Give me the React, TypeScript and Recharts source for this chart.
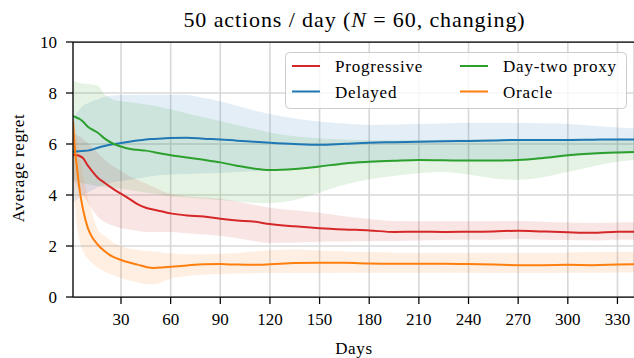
import React from "react";
import {
  ComposedChart,
  Area,
  Line,
  XAxis,
  YAxis,
  CartesianGrid,
  ReferenceLine,
} from "recharts";

// ─── Data ─────────────────────────────────────────────────────────────────────

const days = [
  1, 2, 3, 5, 7, 10, 13, 16, 20, 25, 30, 35, 40, 45, 50, 55, 60, 70, 80, 90,
  100, 110, 120, 135, 150, 165, 180, 195, 210, 225, 240, 255, 270, 285, 300,
  315, 330, 340,
];

const progressive = [
  5.57, 5.57, 5.56, 5.53, 5.45, 5.15, 4.9, 4.68, 4.48, 4.25, 4.05, 3.85, 3.64,
  3.5, 3.42, 3.35, 3.28, 3.2, 3.16, 3.07, 3.0, 2.96, 2.86, 2.77, 2.7, 2.65,
  2.61, 2.55, 2.56, 2.55, 2.56, 2.57, 2.6, 2.57, 2.54, 2.52, 2.56, 2.56,
];
const progressiveLow = [
  4.6, 4.5, 4.4, 4.2, 4.0, 3.7, 3.4, 3.15, 2.95, 2.8, 2.7, 2.65, 2.6, 2.55,
  2.55, 2.55, 2.55, 2.5, 2.45, 2.4, 2.3, 2.2, 2.12, 2.14, 2.17, 2.18, 2.2, 2.2,
  2.22, 2.24, 2.25, 2.25, 2.27, 2.25, 2.24, 2.22, 2.25, 2.25,
];
const progressiveHigh = [
  6.4, 6.4, 6.35, 6.3, 6.2, 6.05, 5.85, 5.65, 5.4, 5.15, 4.95, 4.75, 4.6, 4.45,
  4.3, 4.15, 4.05, 3.95, 3.9, 3.85, 3.75, 3.62, 3.5, 3.4, 3.3, 3.17, 3.06,
  2.98, 2.97, 2.97, 2.97, 2.97, 2.98, 2.95, 2.92, 2.9, 2.92, 2.93,
];

const delayed = [
  5.7, 5.7, 5.71, 5.72, 5.73, 5.74, 5.79, 5.85, 5.92, 5.99, 6.04, 6.09, 6.14,
  6.18, 6.2, 6.22, 6.24, 6.25, 6.21, 6.18, 6.13, 6.09, 6.05, 6.0, 5.97, 6.01,
  6.05, 6.07, 6.09, 6.11, 6.12, 6.14, 6.16, 6.16, 6.16, 6.17, 6.18, 6.18,
];
const delayedLow = [
  3.7, 3.75, 3.8, 3.9, 4.0, 4.1, 4.2, 4.3, 4.4, 4.5, 4.55, 4.6, 4.65, 4.7,
  4.75, 4.78, 4.8, 4.82, 4.85, 4.86, 4.9, 4.93, 4.95, 5.0, 5.08, 5.18, 5.25,
  5.3, 5.33, 5.33, 5.32, 5.32, 5.33, 5.4, 5.5, 5.58, 5.62, 5.64,
];
const delayedHigh = [
  7.0, 7.1, 7.2, 7.35, 7.5, 7.6, 7.7, 7.75, 7.85, 7.9, 7.92, 7.92, 7.93, 7.93,
  7.93, 7.93, 7.93, 7.92, 7.8, 7.67, 7.5, 7.32, 7.18, 7.0, 6.88, 6.8, 6.75,
  6.76, 6.78, 6.8, 6.83, 6.83, 6.82, 6.81, 6.78, 6.72, 6.65, 6.61,
];

const dayTwoProxy = [
  7.1, 7.07, 7.04, 6.98, 6.88, 6.68, 6.55, 6.44, 6.22, 6.02, 5.9, 5.81, 5.77,
  5.74, 5.68, 5.62, 5.56, 5.47, 5.38, 5.28, 5.15, 5.04, 4.98, 5.02, 5.12, 5.24,
  5.3, 5.34, 5.37, 5.36, 5.35, 5.35, 5.37, 5.45, 5.56, 5.63, 5.67, 5.69,
];
const dayTwoProxyLow = [
  4.6, 4.58, 4.55, 4.5, 4.47, 4.42, 4.38, 4.35, 4.3, 4.27, 4.25, 4.2, 4.15,
  4.1, 4.05, 4.0, 3.95, 3.9, 3.85, 3.8, 3.75, 3.7, 3.68, 3.8, 4.1, 4.4, 4.62,
  4.75, 4.85, 4.9, 4.8, 4.65, 4.6, 4.7, 4.9, 5.12, 5.3, 5.37,
];
const dayTwoProxyHigh = [
  8.45, 8.44, 8.42, 8.4, 8.37, 8.35, 8.32, 8.28, 7.95, 7.75, 7.68, 7.64, 7.6,
  7.55, 7.5, 7.43, 7.36, 7.2, 7.05, 6.9, 6.75, 6.6, 6.45, 6.3, 6.22, 6.18,
  6.15, 6.15, 6.16, 6.17, 6.18, 6.18, 6.19, 6.2, 6.2, 6.2, 6.21, 6.21,
];

const oracle = [
  6.9, 5.9, 5.3, 4.2, 3.45, 2.7, 2.3, 2.05, 1.8, 1.58, 1.45, 1.35, 1.27, 1.18,
  1.14, 1.16, 1.19, 1.24, 1.28, 1.29, 1.27, 1.26, 1.28, 1.33, 1.34, 1.34, 1.31,
  1.3, 1.3, 1.3, 1.29, 1.27, 1.25, 1.25, 1.26, 1.25, 1.27, 1.28,
];
const oracleLow = [
  5.0, 3.8, 3.0, 2.2, 1.8, 1.5, 1.3, 1.15, 1.0, 0.85, 0.75, 0.65, 0.58, 0.5,
  0.5, 0.6, 0.72, 0.82, 0.87, 0.9, 0.92, 0.93, 0.94, 0.94, 0.94, 0.95, 0.95,
  0.95, 0.95, 0.95, 0.95, 0.94, 0.94, 0.94, 0.95, 0.95, 0.96, 0.96,
];
const oracleHigh = [
  7.2, 6.8, 6.4, 5.6, 4.8, 3.9, 3.2, 2.65, 2.4, 2.15, 2.0, 1.9, 1.85, 1.8,
  1.78, 1.75, 1.72, 1.68, 1.68, 1.7, 1.72, 1.78, 1.83, 1.86, 1.82, 1.78, 1.76,
  1.74, 1.73, 1.73, 1.73, 1.73, 1.74, 1.74, 1.75, 1.76, 1.77, 1.78,
];

const xTicks = [30, 60, 90, 120, 150, 180, 210, 240, 270, 300, 330];
const yTicks = [0, 2, 4, 6, 8, 10];

// ─── Series setup ─────────────────────────────────────────────────────────────

const series = [
  { key: "progressive", name: "Progressive", color: "#d62728", mean: progressive, low: progressiveLow, high: progressiveHigh },
  { key: "delayed", name: "Delayed", color: "#1f77b4", mean: delayed, low: delayedLow, high: delayedHigh },
  { key: "dayTwo", name: "Day-two proxy", color: "#2ca02c", mean: dayTwoProxy, low: dayTwoProxyLow, high: dayTwoProxyHigh },
  { key: "oracle", name: "Oracle", color: "#ff7f0e", mean: oracle, low: oracleLow, high: oracleHigh },
];

const rows = days.map((day, i) => {
  const row: Record<string, number | number[]> = { day };
  series.forEach((s) => {
    row[s.key] = s.mean[i];
    row[s.key + "Band"] = [s.low[i], s.high[i]];
  });
  return row;
});

const FONT = "'Liberation Serif', 'Times New Roman', serif";
const W = 634;
const H = 358;

// legend slots: [column x of line start, row y]
const legendSlots = [
  { x: 292, y: 66 },
  { x: 292, y: 91.5 },
  { x: 460, y: 66 },
  { x: 460, y: 91.5 },
];

// ─── Overlay: title, axis labels, legend ─────────────────────────────────────

function Overlay() {
  return (
    <svg
      width={W}
      height={H}
      style={{ position: "absolute", left: 0, top: 0, pointerEvents: "none" }}
      fontFamily={FONT}
    >
      <text x={354.5} y={26.5} textAnchor="middle" fontSize={22} letterSpacing={0.9} fill="#000">
        50 actions / day (<tspan fontStyle="italic">N</tspan> = 60, changing)
      </text>
      <text x={354} y={354} textAnchor="middle" fontSize={17} letterSpacing={0.7} fill="#000">
        Days
      </text>
      <text
        transform="translate(24,168) rotate(-90)"
        textAnchor="middle"
        fontSize={17}
        letterSpacing={0.6}
        fill="#000"
      >
        Average regret
      </text>

      {/* Legend */}
      <rect x={285.5} y={52.5} width={341} height={56} rx={4} fill="#fff" fillOpacity={0.8} stroke="#cccccc" />
      {series.map((s, i) => (
        <g key={s.key}>
          <line
            x1={legendSlots[i].x}
            x2={legendSlots[i].x + 28}
            y1={legendSlots[i].y}
            y2={legendSlots[i].y}
            stroke={s.color}
            strokeWidth={2}
          />
          <text
            x={legendSlots[i].x + 43}
            y={legendSlots[i].y + 6.3}
            fontSize={17}
            letterSpacing={0.8}
            fill="#000"
          >
            {s.name}
          </text>
        </g>
      ))}
    </svg>
  );
}

// ─── Chart ────────────────────────────────────────────────────────────────────

export default function App() {
  return (
    <div style={{ position: "absolute", left: 0, top: 0, width: W, height: H, background: "#fff" }}>
      <ComposedChart
        width={W}
        height={H}
        data={rows}
        margin={{ top: 42, right: 0, left: 0, bottom: 0 }}
      >
        <CartesianGrid stroke="#d8d8d8" strokeWidth={1.6} />
        <XAxis
          dataKey="day"
          type="number"
          domain={[1, 340]}
          ticks={xTicks}
          allowDataOverflow
          height={61}
          tickSize={7}
          tickMargin={9}
          axisLine={{ stroke: "#000", strokeWidth: 1.25 }}
          tickLine={{ stroke: "#000", strokeWidth: 1.25 }}
          tick={{ fontSize: 17, fill: "#000", fontFamily: FONT }}
        />
        <YAxis
          type="number"
          domain={[0, 10]}
          ticks={yTicks}
          width={73}
          tickSize={7}
          tickMargin={9}
          axisLine={{ stroke: "#000", strokeWidth: 1.25 }}
          tickLine={{ stroke: "#000", strokeWidth: 1.25 }}
          tick={{ fontSize: 17, fill: "#000", fontFamily: FONT }}
        />
        <ReferenceLine y={10} stroke="#000" strokeWidth={1.25} />

        {series.map((s) => (
          <Area
            key={s.key + "Band"}
            type="monotone"
            dataKey={s.key + "Band"}
            stroke="none"
            fill={s.color}
            fillOpacity={0.12}
            isAnimationActive={false}
          />
        ))}
        {series.map((s) => (
          <Line
            key={s.key}
            type="monotone"
            dataKey={s.key}
            stroke={s.color}
            strokeWidth={2}
            dot={false}
            isAnimationActive={false}
          />
        ))}
      </ComposedChart>
      <Overlay />
    </div>
  );
}
